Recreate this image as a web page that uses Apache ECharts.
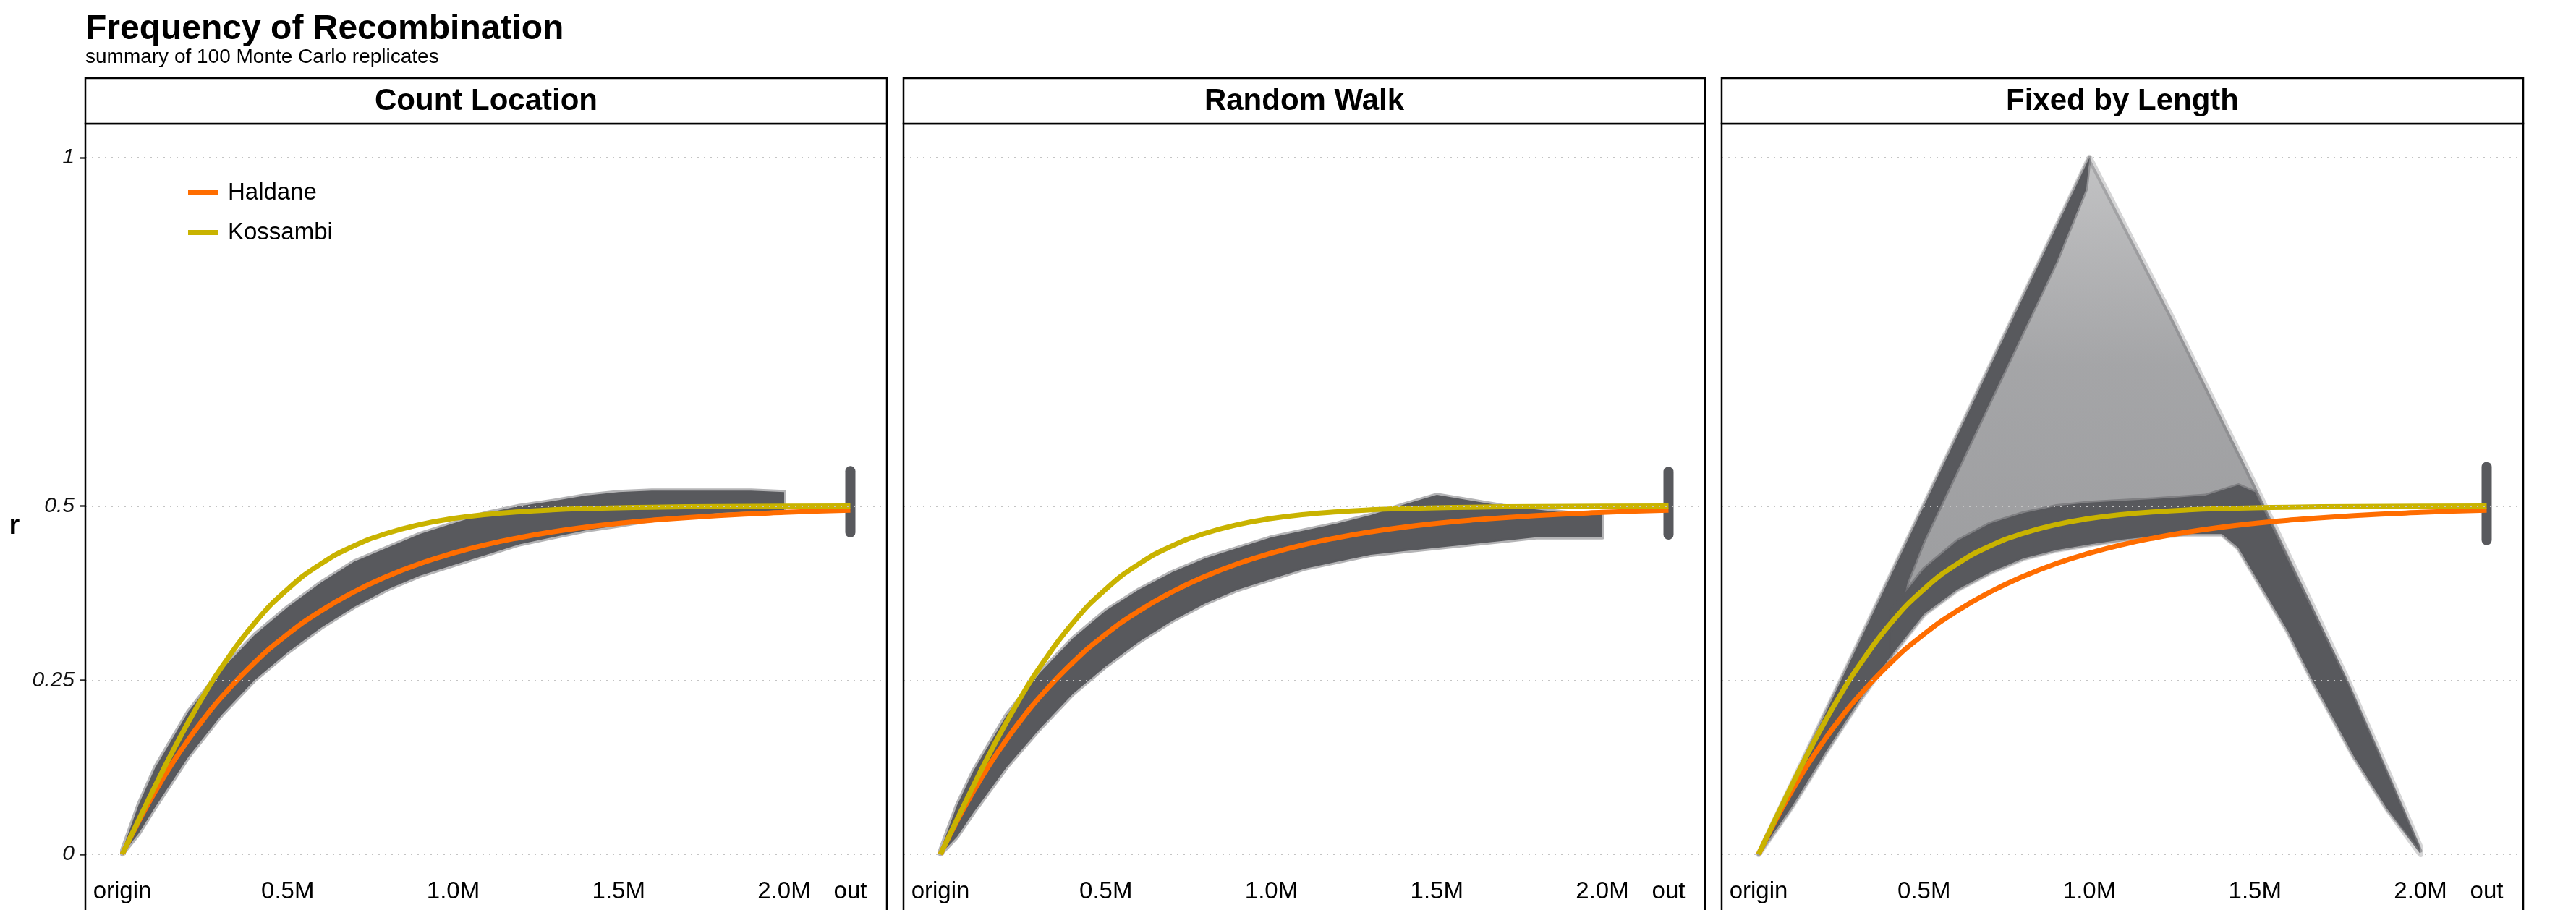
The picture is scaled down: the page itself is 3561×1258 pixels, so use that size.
<!DOCTYPE html>
<html><head><meta charset="utf-8">
<script src="https://cdn.jsdelivr.net/npm/echarts@6/dist/echarts.min.js"></script>
<style>html,body{margin:0;padding:0;background:#fff}#c{width:3561px;height:1258px}</style>
</head><body><div id="c"></div>
<script>
// ---------------- data ----------------
const panelTitles = ['Count Location', 'Random Walk', 'Fixed by Length'];
const xTickValues = [0, 0.5, 1, 1.5, 2, 2.2];
const xTickLabels = ['origin', '0.5M', '1.0M', '1.5M', '2.0M', 'out'];
const yTickValues = [0, 0.25, 0.5, 1];
const yTickLabels = ['0', '0.25', '0.5', '1'];

// map-function curves (r vs position, in Mb)
const curveX   = [0, 0.05, 0.1, 0.15, 0.2, 0.25, 0.3, 0.4, 0.5, 0.6, 0.7, 0.8, 0.9, 1.0, 1.1, 1.2, 1.3, 1.4, 1.5, 1.6, 1.8, 2.0, 2.2];
const haldane  = [0, 0.0476, 0.0906, 0.1296, 0.1648, 0.1967, 0.2256, 0.2753, 0.3161, 0.3494, 0.3767, 0.3991, 0.4174, 0.4323, 0.4446, 0.4546, 0.4629, 0.4696, 0.4751, 0.4796, 0.4863, 0.4908, 0.4939];
const kossambi = [0, 0.0498, 0.0987, 0.1457, 0.19, 0.2311, 0.2685, 0.332, 0.3808, 0.4168, 0.4427, 0.4608, 0.4734, 0.482, 0.4879, 0.4918, 0.4945, 0.4963, 0.4975, 0.4983, 0.4993, 0.4997, 0.4999];

// replicate clouds: lower / upper envelope of the simulated points
const bandX      = [0, 0.05, 0.1, 0.2, 0.3, 0.4, 0.5, 0.6, 0.7, 0.8, 0.9, 1.0, 1.1, 1.2, 1.3, 1.4, 1.5, 1.6, 1.7, 1.8, 1.9, 2.0];
const countLower = [0, 0.03, 0.068, 0.14, 0.2, 0.25, 0.29, 0.325, 0.355, 0.38, 0.4, 0.415, 0.43, 0.445, 0.455, 0.465, 0.472, 0.48, 0.485, 0.49, 0.492, 0.494];
const countUpper = [0.006, 0.072, 0.125, 0.205, 0.265, 0.315, 0.355, 0.39, 0.42, 0.44, 0.46, 0.475, 0.49, 0.5, 0.507, 0.515, 0.52, 0.522, 0.522, 0.522, 0.522, 0.52];
const walkLower  = [0, 0.025, 0.06, 0.125, 0.18, 0.23, 0.27, 0.305, 0.335, 0.36, 0.38, 0.395, 0.41, 0.42, 0.43, 0.435, 0.44, 0.445, 0.45, 0.455, 0.455, 0.455];
const walkUpper  = [0.006, 0.07, 0.12, 0.2, 0.26, 0.31, 0.35, 0.38, 0.405, 0.425, 0.44, 0.455, 0.465, 0.475, 0.487, 0.502, 0.516, 0.508, 0.5, 0.495, 0.49, 0.49];

// Fixed by Length: outline of the whole cloud and of its dense parts, [position, r]
const fixedCloud = [[0,0],[1.0,1.0],[1.25,0.77],[1.5,0.53],[1.78,0.25],[1.9,0.12],[2.0,0.01],[2.0,0],[1.9,0.065],[1.8,0.14],[1.674,0.25],[1.6,0.32],[1.5,0.40],[1.45,0.44],[1.4,0.46],[1.3,0.46],[1.2,0.457],[1.1,0.452],[1.0,0.445],[0.9,0.437],[0.8,0.425],[0.7,0.405],[0.6,0.38],[0.5,0.345],[0.4,0.285],[0.3,0.218],[0.2,0.145],[0.1,0.068],[0,0]];
const fixedLeftDense = [[0,0],[1.0,1.0],[0.99,0.955],[0.9,0.85],[0.8,0.75],[0.7,0.65],[0.6,0.55],[0.5,0.45],[0.45,0.39],[0.4,0.285],[0.3,0.218],[0.2,0.145],[0.1,0.068],[0,0]];
const fixedLowerDense = [[0.4,0.35],[0.5,0.41],[0.6,0.45],[0.7,0.475],[0.8,0.49],[0.9,0.5],[1.0,0.505],[1.2,0.51],[1.35,0.515],[1.45,0.53],[1.5,0.52],[1.78,0.245],[1.9,0.115],[2.0,0.005],[1.9,0.065],[1.8,0.14],[1.674,0.25],[1.6,0.32],[1.5,0.40],[1.45,0.44],[1.4,0.46],[1.3,0.46],[1.2,0.457],[1.1,0.452],[1.0,0.445],[0.9,0.437],[0.8,0.425],[0.7,0.405],[0.6,0.38],[0.5,0.345],[0.4,0.285]];

// unlinked ("out") markers: range of r
const outRanges = [[0.462, 0.550], [0.459, 0.549], [0.451, 0.556]];

// ---------------- style / layout ----------------
const FONT = 'Liberation Sans, Arial, Helvetica, sans-serif';
const GREY = '#58595d';
const HALO = 'rgba(88,89,93,0.45)';
const ORANGE = '#ff6d00';
const YELLOW = '#c9b300';
const PANEL_W = 1108, GAP = 23, LEFT0 = 118;
const PLOT_TOP = 218, PLOT_H = 963;
const X_MIN = -0.111475, X_MAX = 2.310383;

const chart = echarts.init(document.getElementById('c'), null, {renderer: 'canvas'});

const grids = [], xAxes = [], yAxes = [], series = [], graphics = [];
function near(a, b) { return Math.abs(a - b) < 1e-6; }

function polygon(idx, pts, fill, stroke, lw, z) {
  return {
    type: 'custom', xAxisIndex: idx, yAxisIndex: idx, z: z, silent: true,
    data: [[0, 0]],
    renderItem: function (params, api) {
      return {type: 'polygon', shape: {points: pts.map(p => api.coord(p))},
        style: {fill: fill, stroke: stroke || 'none', lineWidth: lw || 0, lineJoin: 'round'}};
    }
  };
}
function band(xs, lo, hi) {
  const pts = xs.map((x, i) => [x, hi[i]]);
  for (let i = xs.length - 1; i >= 0; i--) pts.push([xs[i], lo[i]]);
  return pts;
}
const lightFill = new echarts.graphic.LinearGradient(0, 0, 0, 1, [
  {offset: 0, color: 'rgba(88,89,93,0.36)'},
  {offset: 0.3, color: 'rgba(88,89,93,0.54)'},
  {offset: 1, color: 'rgba(88,89,93,0.64)'}
]);

panelTitles.forEach((title, i) => {
  const L = LEFT0 + i * (PANEL_W + GAP);
  grids.push({left: L, top: PLOT_TOP, width: PANEL_W, height: PLOT_H, containLabel: false});
  xAxes.push({
    gridIndex: i, type: 'value', min: X_MIN, max: X_MAX,
    axisLine: {show: false, onZero: false}, axisTick: {show: false}, splitLine: {show: false},
    axisLabel: {
      customValues: xTickValues, margin: 35, fontSize: 33, fontFamily: FONT, color: '#000',
      formatter: v => { const k = xTickValues.findIndex(t => near(t, v)); return k < 0 ? '' : xTickLabels[k]; }
    }
  });
  yAxes.push({
    gridIndex: i, type: 'value', min: 0, max: 1,
    axisLine: {show: false, onZero: false}, splitLine: {show: false},
    axisTick: {show: i === 0, customValues: yTickValues, length: 8, lineStyle: {color: '#333', width: 2.5}},
    axisLabel: {
      show: i === 0, customValues: yTickValues, margin: 15, fontSize: 30, fontStyle: 'italic', fontFamily: FONT, color: '#111',
      formatter: v => { const k = yTickValues.findIndex(t => near(t, v)); return k < 0 ? '' : yTickLabels[k]; }
    }
  });
  // gridlines
  series.push({
    type: 'line', xAxisIndex: i, yAxisIndex: i, data: [], z: 1, silent: true,
    markLine: {silent: true, symbol: 'none', label: {show: false}, animation: false,
      lineStyle: {color: '#c4c4c4', width: 2, type: [2, 7]},
      data: yTickValues.map(v => ({yAxis: v}))}
  });
  // clouds
  if (i === 0) {
    series.push(polygon(i, band(bandX, countLower, countUpper), GREY, HALO, 6, 2));
  } else if (i === 1) {
    series.push(polygon(i, band(bandX, walkLower, walkUpper), GREY, HALO, 6, 2));
  } else {
    series.push(polygon(i, fixedCloud, lightFill, 'rgba(88,89,93,0.25)', 8, 2));
    series.push(polygon(i, fixedLeftDense, GREY, HALO, 5, 2));
    series.push(polygon(i, fixedLowerDense, GREY, HALO, 5, 2));
  }
  // out marker column
  series.push({
    type: 'line', xAxisIndex: i, yAxisIndex: i, z: 2, silent: true, symbol: 'none',
    data: [[2.2, outRanges[i][0]], [2.2, outRanges[i][1]]],
    lineStyle: {color: GREY, width: 14, cap: 'round'}
  });
  // map functions
  series.push({
    name: 'Haldane', type: 'line', xAxisIndex: i, yAxisIndex: i, z: 3, smooth: true, symbol: 'none', silent: true,
    data: curveX.map((x, k) => [x, haldane[k]]), color: ORANGE,
    lineStyle: {color: ORANGE, width: 7, cap: 'butt'}
  });
  series.push({
    name: 'Kossambi', type: 'line', xAxisIndex: i, yAxisIndex: i, z: 4, smooth: true, symbol: 'none', silent: true,
    data: curveX.map((x, k) => [x, kossambi[k]]), color: YELLOW,
    lineStyle: {color: YELLOW, width: 7, cap: 'butt'}
  });
  // panel border & strip
  graphics.push({type: 'rect', z: 100, silent: true, shape: {x: L, y: 171, width: PANEL_W, height: 1200},
    style: {fill: 'none', stroke: '#000', lineWidth: 2.5}});
  graphics.push({type: 'rect', z: 100, silent: true, shape: {x: L, y: 108, width: PANEL_W, height: 63},
    style: {fill: '#fff', stroke: '#000', lineWidth: 2.5}});
  graphics.push({type: 'text', z: 101, silent: true, x: L + PANEL_W / 2, y: 140,
    style: {text: title, fontSize: 42, fontWeight: 'bold', fontFamily: FONT, fill: '#000',
      align: 'center', verticalAlign: 'middle', textAlign: 'center', textVerticalAlign: 'middle'}});
});

graphics.push({type: 'text', z: 101, silent: true, x: 20, y: 728,
  style: {text: 'r', fontSize: 38, fontWeight: 'bold', fontFamily: FONT, fill: '#000',
    align: 'center', verticalAlign: 'middle', textAlign: 'center', textVerticalAlign: 'middle'}});

chart.setOption({
  animation: false,
  backgroundColor: '#fff',
  title: [
    {text: 'Frequency of Recombination', left: 118, top: 17, padding: 0,
      textStyle: {fontSize: 48, fontWeight: 'bold', fontFamily: FONT, color: '#000'}},
    {text: 'summary of 100 Monte Carlo replicates', left: 118, top: 65, padding: 0,
      textStyle: {fontSize: 28, fontWeight: 'normal', fontFamily: FONT, color: '#000'}}
  ],
  legend: {
    data: ['Haldane', 'Kossambi'], orient: 'vertical', left: 260, top: 250, padding: 0,
    itemWidth: 42, itemHeight: 7, itemGap: 22, icon: 'rect',
    textStyle: {fontSize: 33, fontFamily: FONT, color: '#000', padding: [0, 0, 0, 8]}
  },
  grid: grids, xAxis: xAxes, yAxis: yAxes, series: series, graphic: graphics
});
</script></body></html>
